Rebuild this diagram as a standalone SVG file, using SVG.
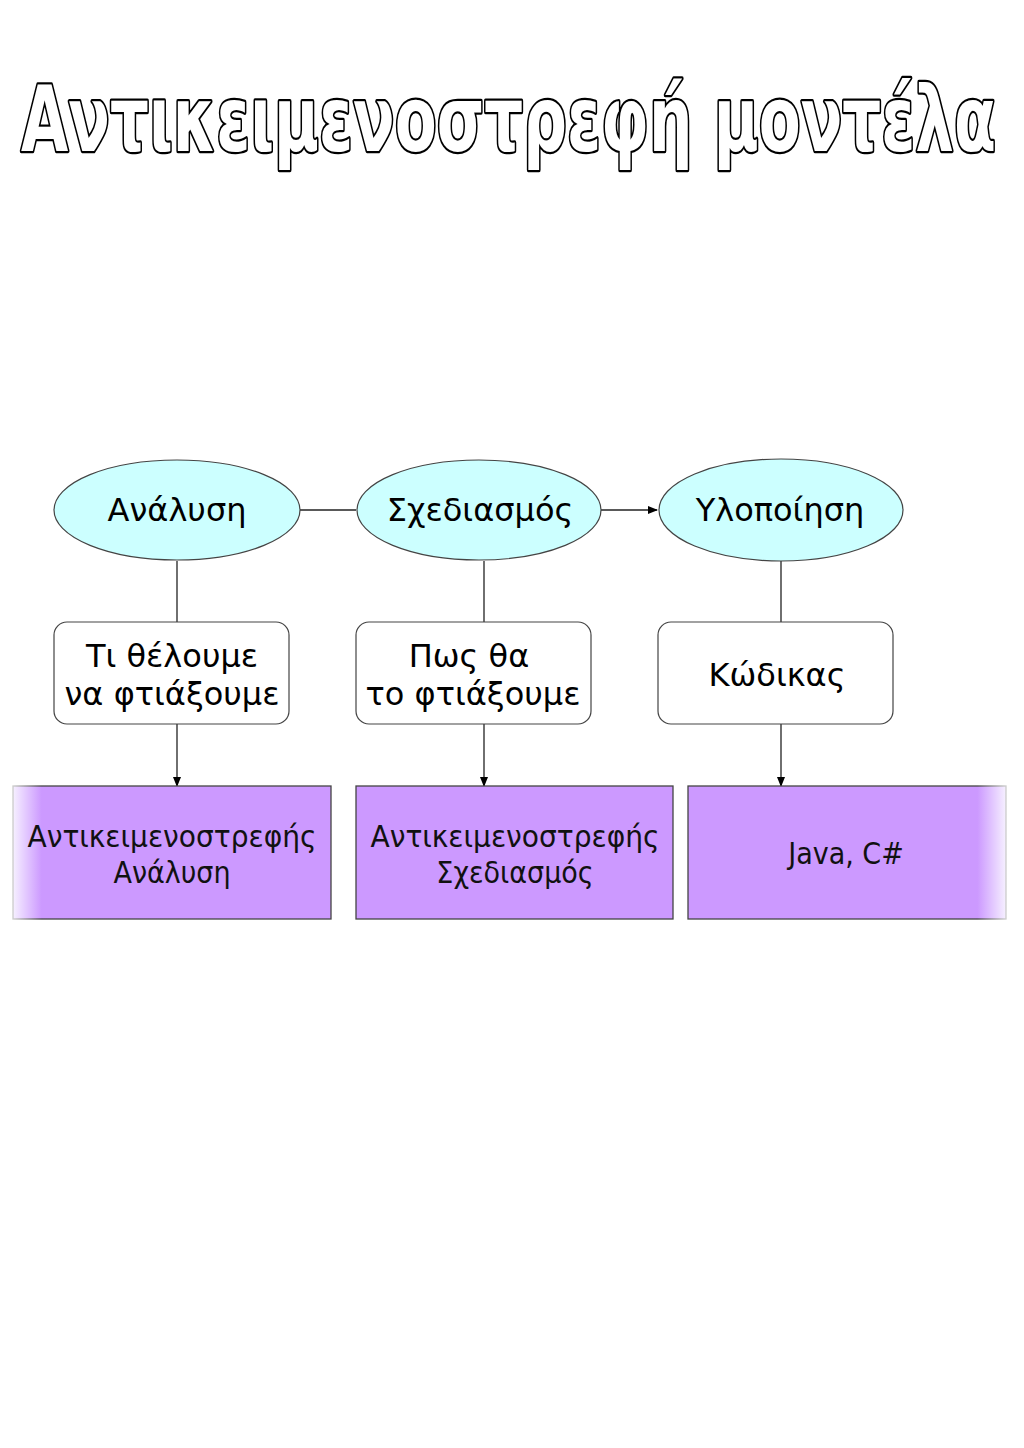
<svg xmlns="http://www.w3.org/2000/svg" width="1024" height="1448" viewBox="0 0 1024 1448">
<style>
.title{font-family:"DejaVu Sans","Noto Sans",sans-serif;font-weight:bold;font-size:90px;fill:#fff;stroke:#000;stroke-width:4.5px;paint-order:stroke;stroke-linejoin:round}
.lbl{font-family:"DejaVu Sans","Noto Sans",sans-serif;font-size:32px;fill:#000;text-anchor:middle}
.plbl{font-family:"DejaVu Sans Condensed","DejaVu Sans",sans-serif;font-size:30px;fill:#111;text-anchor:middle}
.ell{fill:#ccffff;stroke:#444;stroke-width:1.2}
.rbox{fill:#fff;stroke:#444;stroke-width:1.2}
.conn{stroke:#222;stroke-width:1.3;fill:none}
</style>
<defs>
<marker id="arr" markerWidth="10" markerHeight="10" refX="9" refY="5" orient="auto" markerUnits="userSpaceOnUse">
<path d="M0,1 L10,5 L0,9 Z" fill="#000"/>
</marker>
<linearGradient id="fadeL" x1="0" y1="0" x2="1" y2="0">
<stop offset="0" stop-color="#f6f0ff"/>
<stop offset="0.09" stop-color="#cc99ff"/>
<stop offset="1" stop-color="#cc99ff"/>
</linearGradient>
<linearGradient id="fadeR" x1="0" y1="0" x2="1" y2="0">
<stop offset="0" stop-color="#cc99ff"/>
<stop offset="0.91" stop-color="#cc99ff"/>
<stop offset="1" stop-color="#f6f0ff"/>
</linearGradient>
<linearGradient id="strokeL" x1="0" y1="0" x2="1" y2="0">
<stop offset="0" stop-color="#ccc"/>
<stop offset="0.09" stop-color="#444"/>
<stop offset="1" stop-color="#444"/>
</linearGradient>
<linearGradient id="strokeR" x1="0" y1="0" x2="1" y2="0">
<stop offset="0" stop-color="#444"/>
<stop offset="0.91" stop-color="#444"/>
<stop offset="1" stop-color="#ccc"/>
</linearGradient>
</defs>
<rect width="1024" height="1448" fill="#fff"/>
<text class="title" x="21" y="151" textLength="975" lengthAdjust="spacingAndGlyphs">Αντικειμενοστρεφή μοντέλα</text>

<g id="connectors">
<line class="conn" x1="300" y1="510" x2="356" y2="510"/>
<line class="conn" x1="601" y1="510" x2="657" y2="510" marker-end="url(#arr)"/>
<line class="conn" x1="177" y1="561" x2="177" y2="622"/>
<line class="conn" x1="484" y1="561" x2="484" y2="622"/>
<line class="conn" x1="781" y1="561" x2="781" y2="622"/>
<line class="conn" x1="177" y1="724" x2="177" y2="786" marker-end="url(#arr)"/>
<line class="conn" x1="484" y1="724" x2="484" y2="786" marker-end="url(#arr)"/>
<line class="conn" x1="781" y1="724" x2="781" y2="786" marker-end="url(#arr)"/>
</g>

<g id="analysis">
<ellipse class="ell" cx="177" cy="510" rx="123" ry="50"/>
<text class="lbl" x="177" y="521">Ανάλυση</text>
</g>
<g id="design">
<ellipse class="ell" cx="479" cy="510" rx="122" ry="50"/>
<text class="lbl" x="480" y="521">Σχεδιασμός</text>
</g>
<g id="implementation">
<ellipse class="ell" cx="781" cy="510" rx="122" ry="51"/>
<text class="lbl" x="780" y="521">Υλοποίηση</text>
</g>

<g id="what">
<rect class="rbox" x="54" y="622" width="235" height="102" rx="13"/>
<text class="lbl" x="172" y="667">Τι θέλουμε</text>
<text class="lbl" x="172" y="705">να φτιάξουμε</text>
</g>
<g id="how">
<rect class="rbox" x="356" y="622" width="235" height="102" rx="13"/>
<text class="lbl" x="469" y="667">Πως θα</text>
<text class="lbl" x="473" y="705">το φτιάξουμε</text>
</g>
<g id="code">
<rect class="rbox" x="658" y="622" width="235" height="102" rx="13"/>
<text class="lbl" x="777" y="686">Κώδικας</text>
</g>

<g id="ooa">
<rect x="13" y="786" width="318" height="133" fill="url(#fadeL)" stroke="url(#strokeL)" stroke-width="1.3"/>
<text class="plbl" x="172" y="847" textLength="289" lengthAdjust="spacingAndGlyphs">Αντικειμενοστρεφής</text>
<text class="plbl" x="172" y="883">Ανάλυση</text>
</g>
<g id="ood">
<rect x="356" y="786" width="317" height="133" fill="#cc99ff" stroke="#444" stroke-width="1.3"/>
<text class="plbl" x="515" y="847" textLength="289" lengthAdjust="spacingAndGlyphs">Αντικειμενοστρεφής</text>
<text class="plbl" x="515" y="883">Σχεδιασμός</text>
</g>
<g id="lang">
<rect x="688" y="786" width="318" height="133" fill="url(#fadeR)" stroke="url(#strokeR)" stroke-width="1.3"/>
<text class="plbl" x="846" y="864">Java, C#</text>
</g>
</svg>
